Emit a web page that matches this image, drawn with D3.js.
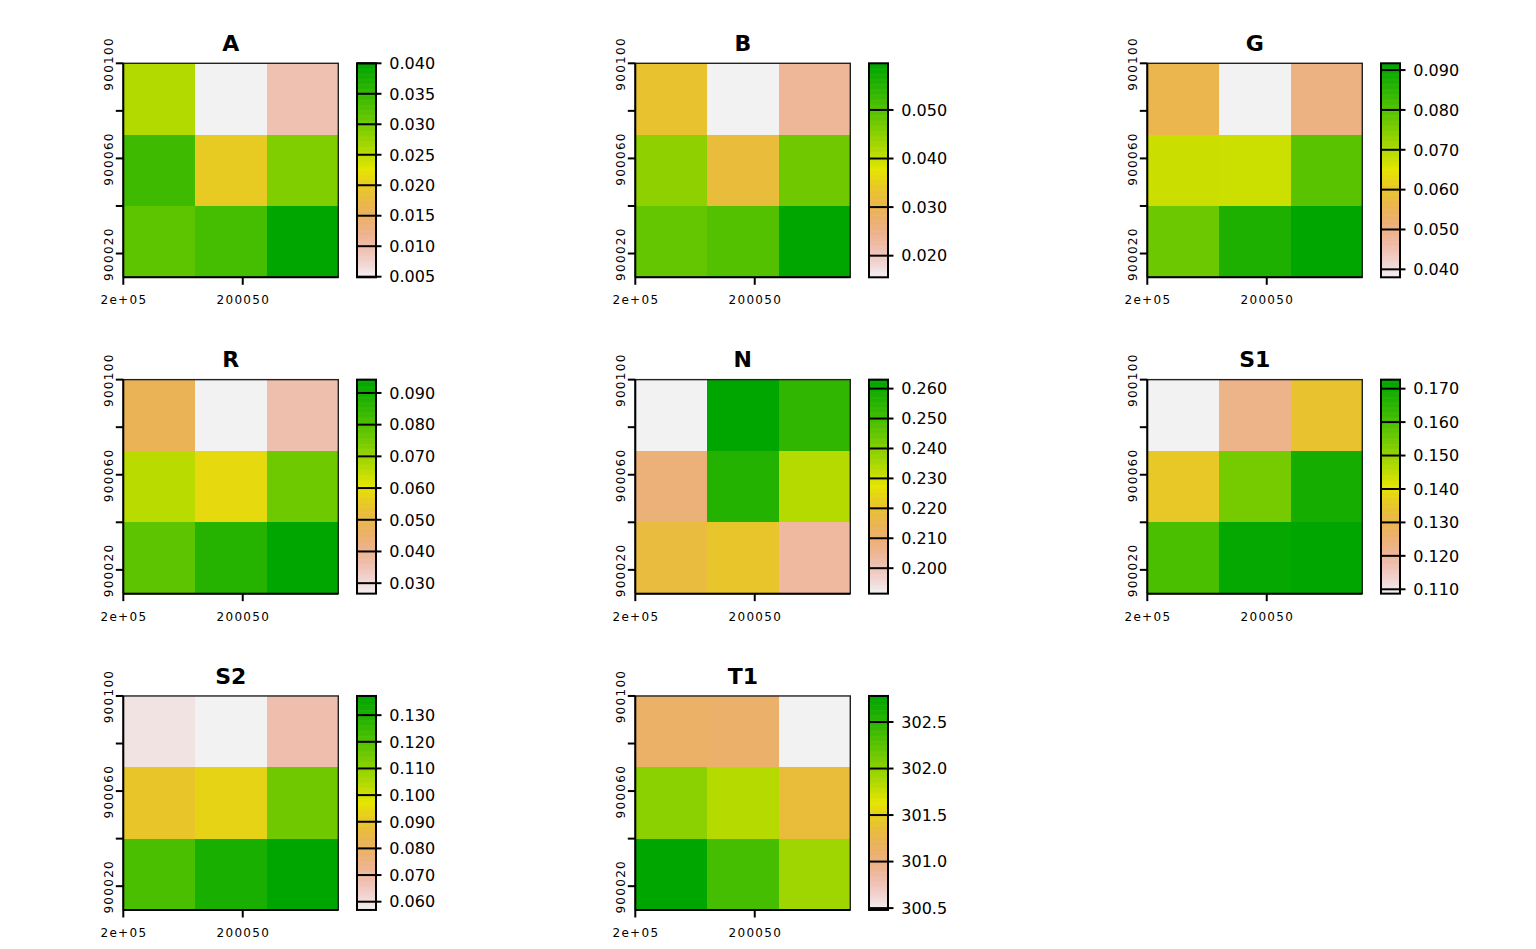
<!DOCTYPE html>
<html><head><meta charset="utf-8">
<script src="https://cdn.jsdelivr.net/npm/d3@7"></script>
<style>body{margin:0;background:#fff}svg{display:block}text{font-family:"DejaVu Sans",sans-serif;fill:#000}</style>
</head><body><svg id="c" width="1536" height="949"></svg>
<script>
// ---- data (row-major, top row first, left to right) ----
const layerNames = ["A","B","G","R","N","S1","S2","T1"];
const valuesA  = [0.0258,0.0049,0.0095, 0.0341,0.0200,0.0290, 0.0317,0.0336,0.0400];
const valuesB  = [0.0333,0.01555,0.0236, 0.0446,0.0321,0.0474, 0.0486,0.0502,0.0596];
const valuesG  = [0.0563,0.0380,0.0503, 0.0676,0.0673,0.0793, 0.0772,0.0871,0.0917];
const valuesR  = [0.0482,0.0267,0.0360, 0.0660,0.0587,0.0758, 0.0785,0.0868,0.0942];
const valuesN  = [0.1915,0.2630,0.2537, 0.2092,0.2559,0.2338, 0.2180,0.2207,0.2038];
const valuesS1 = [0.1087,0.1225,0.1343, 0.1357,0.1542,0.1689, 0.1603,0.1715,0.1727];
const valuesS2 = [0.0596,0.0569,0.0684, 0.0901,0.0935,0.1150, 0.1217,0.1313,0.1372];
const valuesT1 = [301.13,301.12,300.48, 302.02,301.84,301.35, 302.78,302.36,301.93];

const legendTicksA  = ["0.005","0.010","0.015","0.020","0.025","0.030","0.035","0.040"];
const legendTicksB  = ["0.020","0.030","0.040","0.050"];
const legendTicksG  = ["0.040","0.050","0.060","0.070","0.080","0.090"];
const legendTicksR  = ["0.030","0.040","0.050","0.060","0.070","0.080","0.090"];
const legendTicksN  = ["0.200","0.210","0.220","0.230","0.240","0.250","0.260"];
const legendTicksS1 = ["0.110","0.120","0.130","0.140","0.150","0.160","0.170"];
const legendTicksS2 = ["0.060","0.070","0.080","0.090","0.100","0.110","0.120","0.130"];
const legendTicksT1 = ["300.5","301.0","301.5","302.0","302.5"];

const xBreaks = [200000,200030,200060,200090];
const yBreaks = [900100,900070,900040,900010];
const xTickValues = [200000,200050];
const xTickLabels = ["2e+05","200050"];
const yTickValues = [900020,900040,900060,900080,900100];
const yTickLabels = ["900020","","900060","","900100"];

const layerValues = [valuesA,valuesB,valuesG,valuesR,valuesN,valuesS1,valuesS2,valuesT1];
const layerTicks = [legendTicksA,legendTicksB,legendTicksG,legendTicksR,legendTicksN,legendTicksS1,legendTicksS2,legendTicksT1];

// ---- palette: rev(terrain.colors(255)) ----
function hsv(h,s,v){
  const i=Math.floor(h*6), f=h*6-i, p=v*(1-s), q=v*(1-f*s), t=v*(1-(1-f)*s);
  let r,g,b;
  switch(((i%6)+6)%6){case 0:r=v;g=t;b=p;break;case 1:r=q;g=v;b=p;break;case 2:r=p;g=v;b=t;break;case 3:r=p;g=q;b=v;break;case 4:r=t;g=p;b=v;break;default:r=v;g=p;b=q;}
  return d3.rgb(Math.round(r*255),Math.round(g*255),Math.round(b*255)).formatHex();
}
function terrainColors(n){
  const k=Math.floor(n/2), out=[];
  const seq=(a,b,len)=>d3.range(len).map(i=>len===1?a:a+(b-a)*i/(len-1));
  const h1=seq(4/12,2/12,k), s1=seq(1,1,k), v1=seq(.65,.9,k);
  for(let i=0;i<k;i++) out.push(hsv(h1[i],s1[i],v1[i]));
  const m=n-k+1;
  const h2=seq(2/12,0,m), s2=seq(1,0,m), v2=seq(.9,.95,m);
  for(let i=1;i<m;i++) out.push(hsv(h2[i],s2[i],v2[i]));
  return out;
}
const NCOL=255;
const palette = terrainColors(NCOL).reverse();

// ---- drawing ----
const svg = d3.select("#c");
svg.append("rect").attr("width",1536).attr("height",949).attr("fill","#fff");
const colW = 512, rowH = 316.33;
const plotW = 215, plotH = 214;

layerNames.forEach((name,li)=>{
  const col = li%3, row = Math.floor(li/3);
  const x0 = col*colW + 123.3, y0 = row*rowH + 63.3;
  const vals = layerValues[li];
  const [mn,mx] = d3.extent(vals);
  const cscale = d3.scaleQuantize().domain([mn,mx]).range(palette);
  const xs = d3.scaleLinear().domain([200000,200090]).range([x0,x0+plotW]);
  const ys = d3.scaleLinear().domain([900010,900100]).range([y0+plotH,y0]);
  const g = svg.append("g");

  const cells = vals.map((v,i)=>({v, r:Math.floor(i/3), c:i%3}));
  g.selectAll("rect.cell").data(cells).join("rect").attr("class","cell")
    .attr("x",d=>xs(xBreaks[d.c])).attr("width",d=>xs(xBreaks[d.c+1])-xs(xBreaks[d.c]))
    .attr("y",d=>ys(yBreaks[d.r])).attr("height",d=>ys(yBreaks[d.r+1])-ys(yBreaks[d.r]))
    .attr("fill",d=>cscale(d.v)).attr("shape-rendering","crispEdges");

  // box + axes
  g.append("rect").attr("x",x0).attr("y",y0).attr("width",plotW).attr("height",plotH)
    .attr("fill","none").attr("stroke","#222").attr("stroke-width",1.4);
  g.append("line").attr("x1",x0).attr("x2",x0).attr("y1",y0).attr("y2",y0+plotH).attr("stroke","#000").attr("stroke-width",2);
  g.append("line").attr("x1",x0).attr("x2",x0+plotW).attr("y1",y0+plotH).attr("y2",y0+plotH).attr("stroke","#000").attr("stroke-width",2);

  // x ticks
  xTickValues.forEach((t,i)=>{
    g.append("line").attr("x1",xs(t)).attr("x2",xs(t)).attr("y1",y0+plotH).attr("y2",y0+plotH+7.5).attr("stroke","#000").attr("stroke-width",2);
    g.append("text").attr("x",xs(t)+0.6).attr("y",y0+plotH+27).attr("text-anchor","middle")
      .style("font-size","12px").style("letter-spacing","1.3px").text(xTickLabels[i]);
  });
  // y ticks
  yTickValues.forEach((t,i)=>{
    g.append("line").attr("x1",x0-7.5).attr("x2",x0).attr("y1",ys(t)).attr("y2",ys(t)).attr("stroke","#000").attr("stroke-width",2);
    if(yTickLabels[i]) g.append("text").attr("transform",`translate(${x0-10},${ys(t)+0.6}) rotate(-90)`)
      .attr("text-anchor","middle").style("font-size","12px").style("letter-spacing","1.3px").text(yTickLabels[i]);
  });

  // title
  g.append("text").attr("x",x0+plotW/2).attr("y",y0-12.3).attr("text-anchor","middle")
    .style("font-size","22px").style("font-weight","bold").text(name);

  // legend
  const bx = col*colW + 357, bw = 19;
  const ls = d3.scaleLinear().domain([mn,mx]).range([y0+plotH,y0]);
  const steps = d3.range(NCOL);
  g.selectAll("rect.leg").data(steps).join("rect").attr("class","leg")
    .attr("x",bx).attr("width",bw)
    .attr("y",i=>ls(mn+(mx-mn)*(i+1)/NCOL)).attr("height",i=>ls(mn+(mx-mn)*i/NCOL)-ls(mn+(mx-mn)*(i+1)/NCOL)+0.6)
    .attr("fill",i=>palette[i]);
  g.append("rect").attr("x",bx).attr("y",y0).attr("width",bw).attr("height",plotH)
    .attr("fill","none").attr("stroke","#000").attr("stroke-width",2);
  layerTicks[li].forEach(lab=>{
    const v=+lab, y=ls(v);
    g.append("line").attr("x1",bx).attr("x2",bx+bw+5.5).attr("y1",y).attr("y2",y).attr("stroke","#000").attr("stroke-width",2);
    g.append("text").attr("x",bx+32.3).attr("y",y).attr("dy","0.36em").style("font-size","16px").text(lab);
  });
});
</script></body></html>
